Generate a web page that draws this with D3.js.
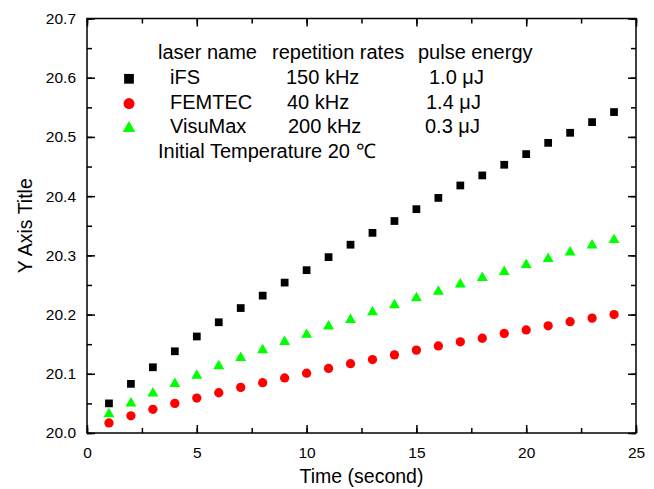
<!DOCTYPE html>
<html>
<head>
<meta charset="utf-8">
<script src="https://cdn.jsdelivr.net/npm/d3@7"></script>
<style>
  body { margin: 0; background: #fff; }
  text { font-family: "Liberation Sans", Arial, sans-serif; fill: #000; }
</style>
</head>
<body>
<div id="chart"></div>
<script>
// time in seconds
var times = d3.range(1, 25);

var iFS = [20.050, 20.083, 20.111, 20.138, 20.163, 20.187, 20.211, 20.232, 20.254,
           20.275, 20.297, 20.318, 20.338, 20.358, 20.378, 20.397, 20.418, 20.435,
           20.453, 20.471, 20.490, 20.507, 20.525, 20.542];
var femtec = [20.017, 20.029, 20.040, 20.050, 20.059, 20.068, 20.077, 20.085, 20.093,
              20.101, 20.109, 20.117, 20.124, 20.132, 20.140, 20.147, 20.154, 20.160,
              20.168, 20.174, 20.181, 20.188, 20.194, 20.200];
var visumax = [20.032, 20.050, 20.067, 20.083, 20.097, 20.113, 20.127, 20.140, 20.154,
               20.166, 20.180, 20.191, 20.204, 20.216, 20.228, 20.239, 20.251, 20.262,
               20.272, 20.284, 20.294, 20.305, 20.317, 20.326];

var xTicks = [0, 5, 10, 15, 20, 25];
var yTicks = [20.0, 20.1, 20.2, 20.3, 20.4, 20.5, 20.6, 20.7];

var legendHeader = ["laser name", "repetition rates", "pulse energy"];
var legendRows = [
  ["iFS", "150 kHz", "1.0 \u03bcJ"],
  ["FEMTEC", "40 kHz", "1.4 \u03bcJ"],
  ["VisuMax", "200 kHz", "0.3 \u03bcJ"]
];
var noteText = "Initial Temperature 20 \u2103";

var series = [
  {name: "iFS", values: iFS, color: "#000000", shape: d3.symbolSquare, size: 60, legendSize: 95},
  {name: "FEMTEC", values: femtec, color: "#ff0000", shape: d3.symbolCircle, size: 68, legendSize: 95},
  {name: "VisuMax", values: visumax, color: "#00ff00", shape: d3.symbolTriangle, size: 52, legendSize: 70}
];

var svgWidth = 654, svgHeight = 489;
var margin = {top: 18.5, right: 18, bottom: 56, left: 87};
var width = svgWidth - margin.left - margin.right;
var height = svgHeight - margin.top - margin.bottom;

var svg = d3.select("#chart").append("svg")
  .attr("width", svgWidth)
  .attr("height", svgHeight);

var g = svg.append("g")
  .attr("transform", "translate(" + margin.left + "," + margin.top + ")");

var xScale = d3.scaleLinear().domain([0, 25]).range([0, width]);
var yScale = d3.scaleLinear().domain([20.0, 20.7]).range([height, 0]);

var xMinor = d3.range(0, 25.01, 2.5);
var yMinor = d3.range(0, 15).map(i => 20 + i * 0.05);

// bottom
g.append("g").attr("transform", "translate(0," + height + ")")
  .call(d3.axisBottom(xScale).tickValues(xMinor).tickSize(-5).tickFormat(""));
var bxMajor = g.append("g").attr("transform", "translate(0," + height + ")")
  .call(d3.axisBottom(xScale).tickValues(xTicks).tickSize(-8).tickPadding(14).tickFormat(d3.format("d")));
bxMajor.selectAll("text").attr("font-size", "15.5px");

// top
g.append("g").call(d3.axisTop(xScale).tickValues(xMinor).tickSize(-5).tickFormat(""));
g.append("g").call(d3.axisTop(xScale).tickValues(xTicks).tickSize(-8).tickFormat(""));

// left
g.append("g").call(d3.axisLeft(yScale).tickValues(yMinor).tickSize(-5).tickFormat(""));
var lyMajor = g.append("g")
  .call(d3.axisLeft(yScale).tickValues(yTicks).tickSize(-8).tickPadding(11).tickFormat(d3.format(".1f")));
lyMajor.selectAll("text").attr("font-size", "15.5px");

// right
g.append("g").attr("transform", "translate(" + width + ",0)")
  .call(d3.axisRight(yScale).tickValues(yMinor).tickSize(-5).tickFormat(""));
g.append("g").attr("transform", "translate(" + width + ",0)")
  .call(d3.axisRight(yScale).tickValues(yTicks).tickSize(-8).tickFormat(""));

g.selectAll(".domain").remove();
g.selectAll(".tick line").attr("stroke", "#000").attr("stroke-width", 1.5);
g.selectAll(".tick text").attr("fill", "#000").attr("font-family", "Liberation Sans, Arial, sans-serif");

// frame
g.append("rect")
  .attr("width", width)
  .attr("height", height)
  .attr("fill", "none")
  .attr("stroke", "#000")
  .attr("stroke-width", 1.5);

// data points
series.forEach(function(s) {
  g.selectAll(null)
    .data(times.map((t, i) => ({x: t, y: s.values[i]})))
    .enter()
    .append("path")
    .attr("d", d3.symbol().type(s.shape).size(s.size))
    .attr("transform", d => "translate(" + xScale(d.x) + "," + yScale(d.y) + ")")
    .attr("fill", s.color);
});

// axis titles
svg.append("text")
  .attr("x", margin.left + width / 2)
  .attr("y", 483)
  .attr("text-anchor", "middle")
  .attr("font-size", "19.5px")
  .text("Time (second)");

svg.append("text")
  .attr("transform", "translate(32," + (margin.top + height / 2) + ") rotate(-90)")
  .attr("text-anchor", "middle")
  .attr("font-size", "19.5px")
  .text("Y Axis Title");

// legend block
var legend = svg.append("g").attr("font-size", "20px");
var rowGap = 24.8;
var headerX = [158, 272, 418];
var colX = [[170, 286, 429], [170, 287, 426], [170, 288, 425]];

legend.selectAll(".hdr")
  .data(legendHeader)
  .enter().append("text")
  .attr("x", (d, i) => headerX[i])
  .attr("y", 59)
  .text(d => d);

legendRows.forEach(function(row, r) {
  var y = 59 + (r + 1) * rowGap;
  legend.append("path")
    .attr("d", d3.symbol().type(series[r].shape).size(series[r].legendSize))
    .attr("transform", "translate(129," + (y - 5) + ")")
    .attr("fill", series[r].color);
  row.forEach(function(t, c) {
    legend.append("text")
      .attr("x", colX[r][c])
      .attr("y", y)
      .text(t);
  });
});

legend.append("text")
  .attr("x", 158)
  .attr("y", 59 + 4 * rowGap)
  .text(noteText);
</script>
</body>
</html>
